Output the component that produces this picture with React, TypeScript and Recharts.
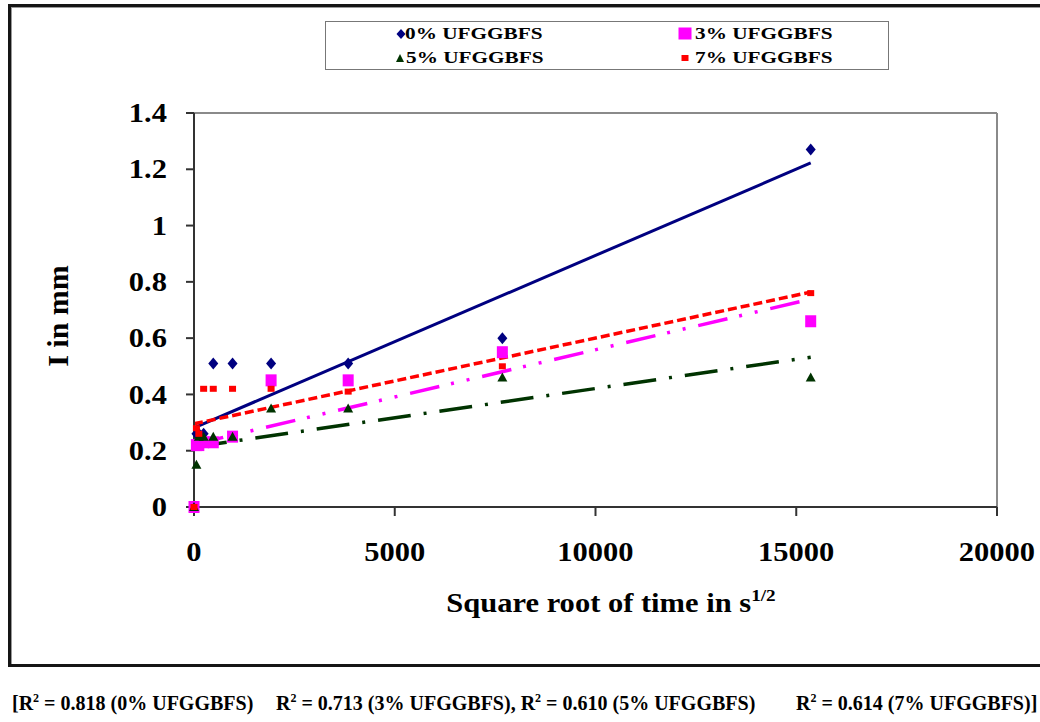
import React from 'react';
import { ComposedChart, Scatter, Line, XAxis, YAxis, ReferenceLine } from 'recharts';

// Square root of time values (s^1/2)
const X_VALUES = [0, 60, 120, 240, 480, 960, 1920, 3840, 7680, 15360];
// I in mm for each mix
const S0 = [0, 0.26, 0.26, 0.26, 0.51, 0.51, 0.51, 0.51, 0.6, 1.27];
const S3 = [0, 0.22, 0.22, 0.23, 0.23, 0.25, 0.45, 0.45, 0.55, 0.66];
const S5 = [0, 0.15, 0.25, 0.25, 0.25, 0.25, 0.35, 0.35, 0.46, 0.46];
const S7 = [0, 0.28, 0.26, 0.42, 0.42, 0.42, 0.42, 0.41, 0.5, 0.76];

const SERIES_NAMES = ['0% UFGGBFS', '3% UFGGBFS', '5% UFGGBFS', '7% UFGGBFS'];
const R2_VALUES = ['0.818', '0.713', '0.610', '0.614'];
const X_TICKS = [0, 5000, 10000, 15000, 20000];
const Y_TICKS = [0, 0.2, 0.4, 0.6, 0.8, 1, 1.2, 1.4];

const FONT = '"Liberation Serif", "Times New Roman", serif';
const NAVY = '#000080';
const MAGENTA = '#FF00FF';
const GREEN = '#003300';
const RED = '#FF0000';

const toPoints = (ys: number[]) => X_VALUES.map((x, i) => ({ x, y: ys[i] }));

// Linear least-squares trendline (as Excel's linear trendline)
function trend(ys: number[]) {
  const n = X_VALUES.length;
  const mx = X_VALUES.reduce((a, b) => a + b, 0) / n;
  const my = ys.reduce((a, b) => a + b, 0) / n;
  let sxy = 0;
  let sxx = 0;
  for (let i = 0; i < n; i++) {
    sxy += (X_VALUES[i] - mx) * (ys[i] - my);
    sxx += (X_VALUES[i] - mx) * (X_VALUES[i] - mx);
  }
  const m = sxy / sxx;
  const b = my - m * mx;
  const x0 = X_VALUES[0];
  const x1 = X_VALUES[n - 1];
  return [
    { x: x0, y: b + m * x0 },
    { x: x1, y: b + m * x1 },
  ];
}

const Diamond = (p: any) => {
  const { cx, cy } = p;
  if (cx == null || cy == null) return null;
  return <path d={`M${cx},${cy - 6}L${cx + 5},${cy}L${cx},${cy + 6}L${cx - 5},${cy}Z`} fill={NAVY} />;
};
const Square = (p: any) => {
  const { cx, cy } = p;
  if (cx == null || cy == null) return null;
  return <rect x={cx - 5.5} y={cy - 6} width={11} height={12} fill={MAGENTA} />;
};
const Triangle = (p: any) => {
  const { cx, cy } = p;
  if (cx == null || cy == null) return null;
  return <path d={`M${cx},${cy - 5}L${cx + 5},${cy + 4}L${cx - 5},${cy + 4}Z`} fill={GREEN} />;
};
const SmallSquare = (p: any) => {
  const { cx, cy } = p;
  if (cx == null || cy == null) return null;
  return <rect x={cx - 3.5} y={cy - 3} width={7} height={6} fill={RED} />;
};

const YTick = (p: any) => {
  const { x, y, payload } = p;
  return (
    <text
      transform={`translate(${x},${y}) scale(1.13,1)`}
      textAnchor="end"
      dy="0.34em"
      fontFamily={FONT}
      fontWeight="bold"
      fontSize={27}
      fill="#000"
    >
      {String(payload.value)}
    </text>
  );
};
const XTick = (p: any) => {
  const { x, y, payload } = p;
  return (
    <text
      transform={`translate(${x},${y}) scale(1.13,1)`}
      textAnchor="middle"
      dy="0.71em"
      fontFamily={FONT}
      fontWeight="bold"
      fontSize={27}
      fill="#000"
    >
      {String(payload.value)}
    </text>
  );
};

const LegendMarker = ({ kind }: { kind: number }) => {
  if (kind === 0)
    return (
      <svg width={12} height={12} style={{ display: 'block' }}>
        <path d="M6,1L10.5,6L6,11L1.5,6Z" fill={NAVY} />
      </svg>
    );
  if (kind === 1)
    return (
      <svg width={14} height={13} style={{ display: 'block' }}>
        <rect x={0.5} y={0.5} width={13} height={12} fill={MAGENTA} />
      </svg>
    );
  if (kind === 2)
    return (
      <svg width={12} height={12} style={{ display: 'block' }}>
        <path d="M6,2L10,10L2,10Z" fill={GREEN} />
      </svg>
    );
  return (
    <svg width={10} height={10} style={{ display: 'block' }}>
      <rect x={1.5} y={2} width={7} height={6} fill={RED} />
    </svg>
  );
};

const legendPos = [
  { mx: 395, my: 28, tx: 405, ty: 25 },
  { mx: 678, my: 27, tx: 695, ty: 25 },
  { mx: 394, my: 52, tx: 406, ty: 49 },
  { mx: 680, my: 53, tx: 695, ty: 49 },
];

const Sup2 = () => (
  <span style={{ fontSize: 12, position: 'relative', top: -8 }}>2</span>
);

export default function App() {
  const series = [S0, S3, S5, S7];
  const shapes = [Diamond, Square, Triangle, SmallSquare];
  const colors = [NAVY, MAGENTA, GREEN, RED];
  const dashes = [undefined, '30 12 3 13 3 13', '33 13 3 13', '9 4'];
  const widths = [3, 3.5, 3.5, 3.5];

  return (
    <div
      style={{
        position: 'absolute',
        left: 0,
        top: 0,
        width: 1040,
        height: 722,
        overflow: 'hidden',
        background: '#fff',
        fontFamily: FONT,
      }}
    >
      {/* outer frame */}
      <div
        style={{
          position: 'absolute',
          left: 8,
          top: 4,
          width: 1100,
          height: 663,
          boxSizing: 'border-box',
          border: '3px solid #151515',
          boxShadow: 'inset 1px 1px 0 #999',
        }}
      />
      <div style={{ position: 'absolute', left: 0, top: 0 }}>
        <ComposedChart
          width={1040}
          height={722}
          margin={{ top: 113, right: 43, bottom: 155, left: 134 }}
        >
          <XAxis
            type="number"
            dataKey="x"
            domain={[0, 20000]}
            ticks={X_TICKS}
            height={60}
            tickSize={9}
            tickMargin={26}
            tick={<XTick />}
            axisLine={{ stroke: '#333', strokeWidth: 2 }}
            tickLine={{ stroke: '#333', strokeWidth: 2 }}
          />
          <YAxis
            type="number"
            dataKey="y"
            domain={[0, 1.4]}
            ticks={Y_TICKS}
            width={60}
            tickSize={8}
            tickMargin={19}
            tick={<YTick />}
            axisLine={{ stroke: '#333', strokeWidth: 2 }}
            tickLine={{ stroke: '#333', strokeWidth: 2 }}
          />
          <ReferenceLine y={1.4} stroke="#8a8a8a" strokeWidth={2} ifOverflow="visible" />
          <ReferenceLine x={20000} stroke="#8a8a8a" strokeWidth={2} ifOverflow="visible" />
          {series.map((s, i) => (
            <Line
              key={'t' + i}
              data={trend(s)}
              dataKey="y"
              type="linear"
              stroke={colors[i]}
              strokeWidth={widths[i]}
              strokeDasharray={dashes[i]}
              dot={false}
              activeDot={false}
              legendType="none"
              isAnimationActive={false}
            />
          ))}
          {series.map((s, i) => (
            <Scatter
              key={'s' + i}
              name={SERIES_NAMES[i]}
              data={toPoints(s)}
              dataKey="y"
              fill={colors[i]}
              shape={shapes[i]}
              isAnimationActive={false}
            />
          ))}
        </ComposedChart>
      </div>

      {/* legend */}
      <div
        style={{
          position: 'absolute',
          left: 325,
          top: 21,
          width: 564,
          height: 49,
          boxSizing: 'border-box',
          border: '1.5px solid #777',
          background: '#fff',
        }}
      />
      {SERIES_NAMES.map((name, i) => (
        <React.Fragment key={name}>
          <div style={{ position: 'absolute', left: legendPos[i].mx, top: legendPos[i].my }}>
            <LegendMarker kind={i} />
          </div>
          <div
            style={{
              position: 'absolute',
              left: legendPos[i].tx,
              top: legendPos[i].ty,
              fontSize: 17,
              lineHeight: '17px',
              fontWeight: 'bold',
              whiteSpace: 'nowrap',
              transform: 'scaleX(1.25)',
              transformOrigin: 'left center',
              color: '#000',
            }}
          >
            {name}
          </div>
        </React.Fragment>
      ))}

      {/* y-axis title */}
      <div
        style={{
          position: 'absolute',
          left: 58,
          top: 316,
          transform: 'translate(-50%, -50%) rotate(-90deg)',
          fontSize: 30,
          lineHeight: '30px',
          fontWeight: 'bold',
          whiteSpace: 'nowrap',
          color: '#000',
        }}
      >
        I in mm
      </div>

      {/* x-axis title */}
      <div
        style={{
          position: 'absolute',
          left: 611,
          top: 590,
          transform: 'translateX(-50%) scaleX(1.13)',
          fontSize: 27,
          lineHeight: '27px',
          fontWeight: 'bold',
          whiteSpace: 'nowrap',
          color: '#000',
        }}
      >
        Square root of time in s
        <span style={{ fontSize: 17, position: 'relative', top: -11 }}>1/2</span>
      </div>

      {/* R² footnote */}
      <div
        style={{
          position: 'absolute',
          left: 12,
          top: 693,
          fontSize: 20,
          lineHeight: '20px',
          fontWeight: 'bold',
          whiteSpace: 'nowrap',
          color: '#000',
        }}
      >
        [R<Sup2 /> = {R2_VALUES[0]} ({SERIES_NAMES[0]})
      </div>
      <div
        style={{
          position: 'absolute',
          left: 276,
          top: 693,
          fontSize: 20,
          lineHeight: '20px',
          fontWeight: 'bold',
          whiteSpace: 'nowrap',
          color: '#000',
        }}
      >
        R<Sup2 /> = {R2_VALUES[1]} ({SERIES_NAMES[1]}), R<Sup2 /> = {R2_VALUES[2]} ({SERIES_NAMES[2]})
      </div>
      <div
        style={{
          position: 'absolute',
          left: 796,
          top: 693,
          fontSize: 20,
          lineHeight: '20px',
          fontWeight: 'bold',
          whiteSpace: 'nowrap',
          color: '#000',
        }}
      >
        R<Sup2 /> = {R2_VALUES[3]} ({SERIES_NAMES[3]})]
      </div>
    </div>
  );
}
